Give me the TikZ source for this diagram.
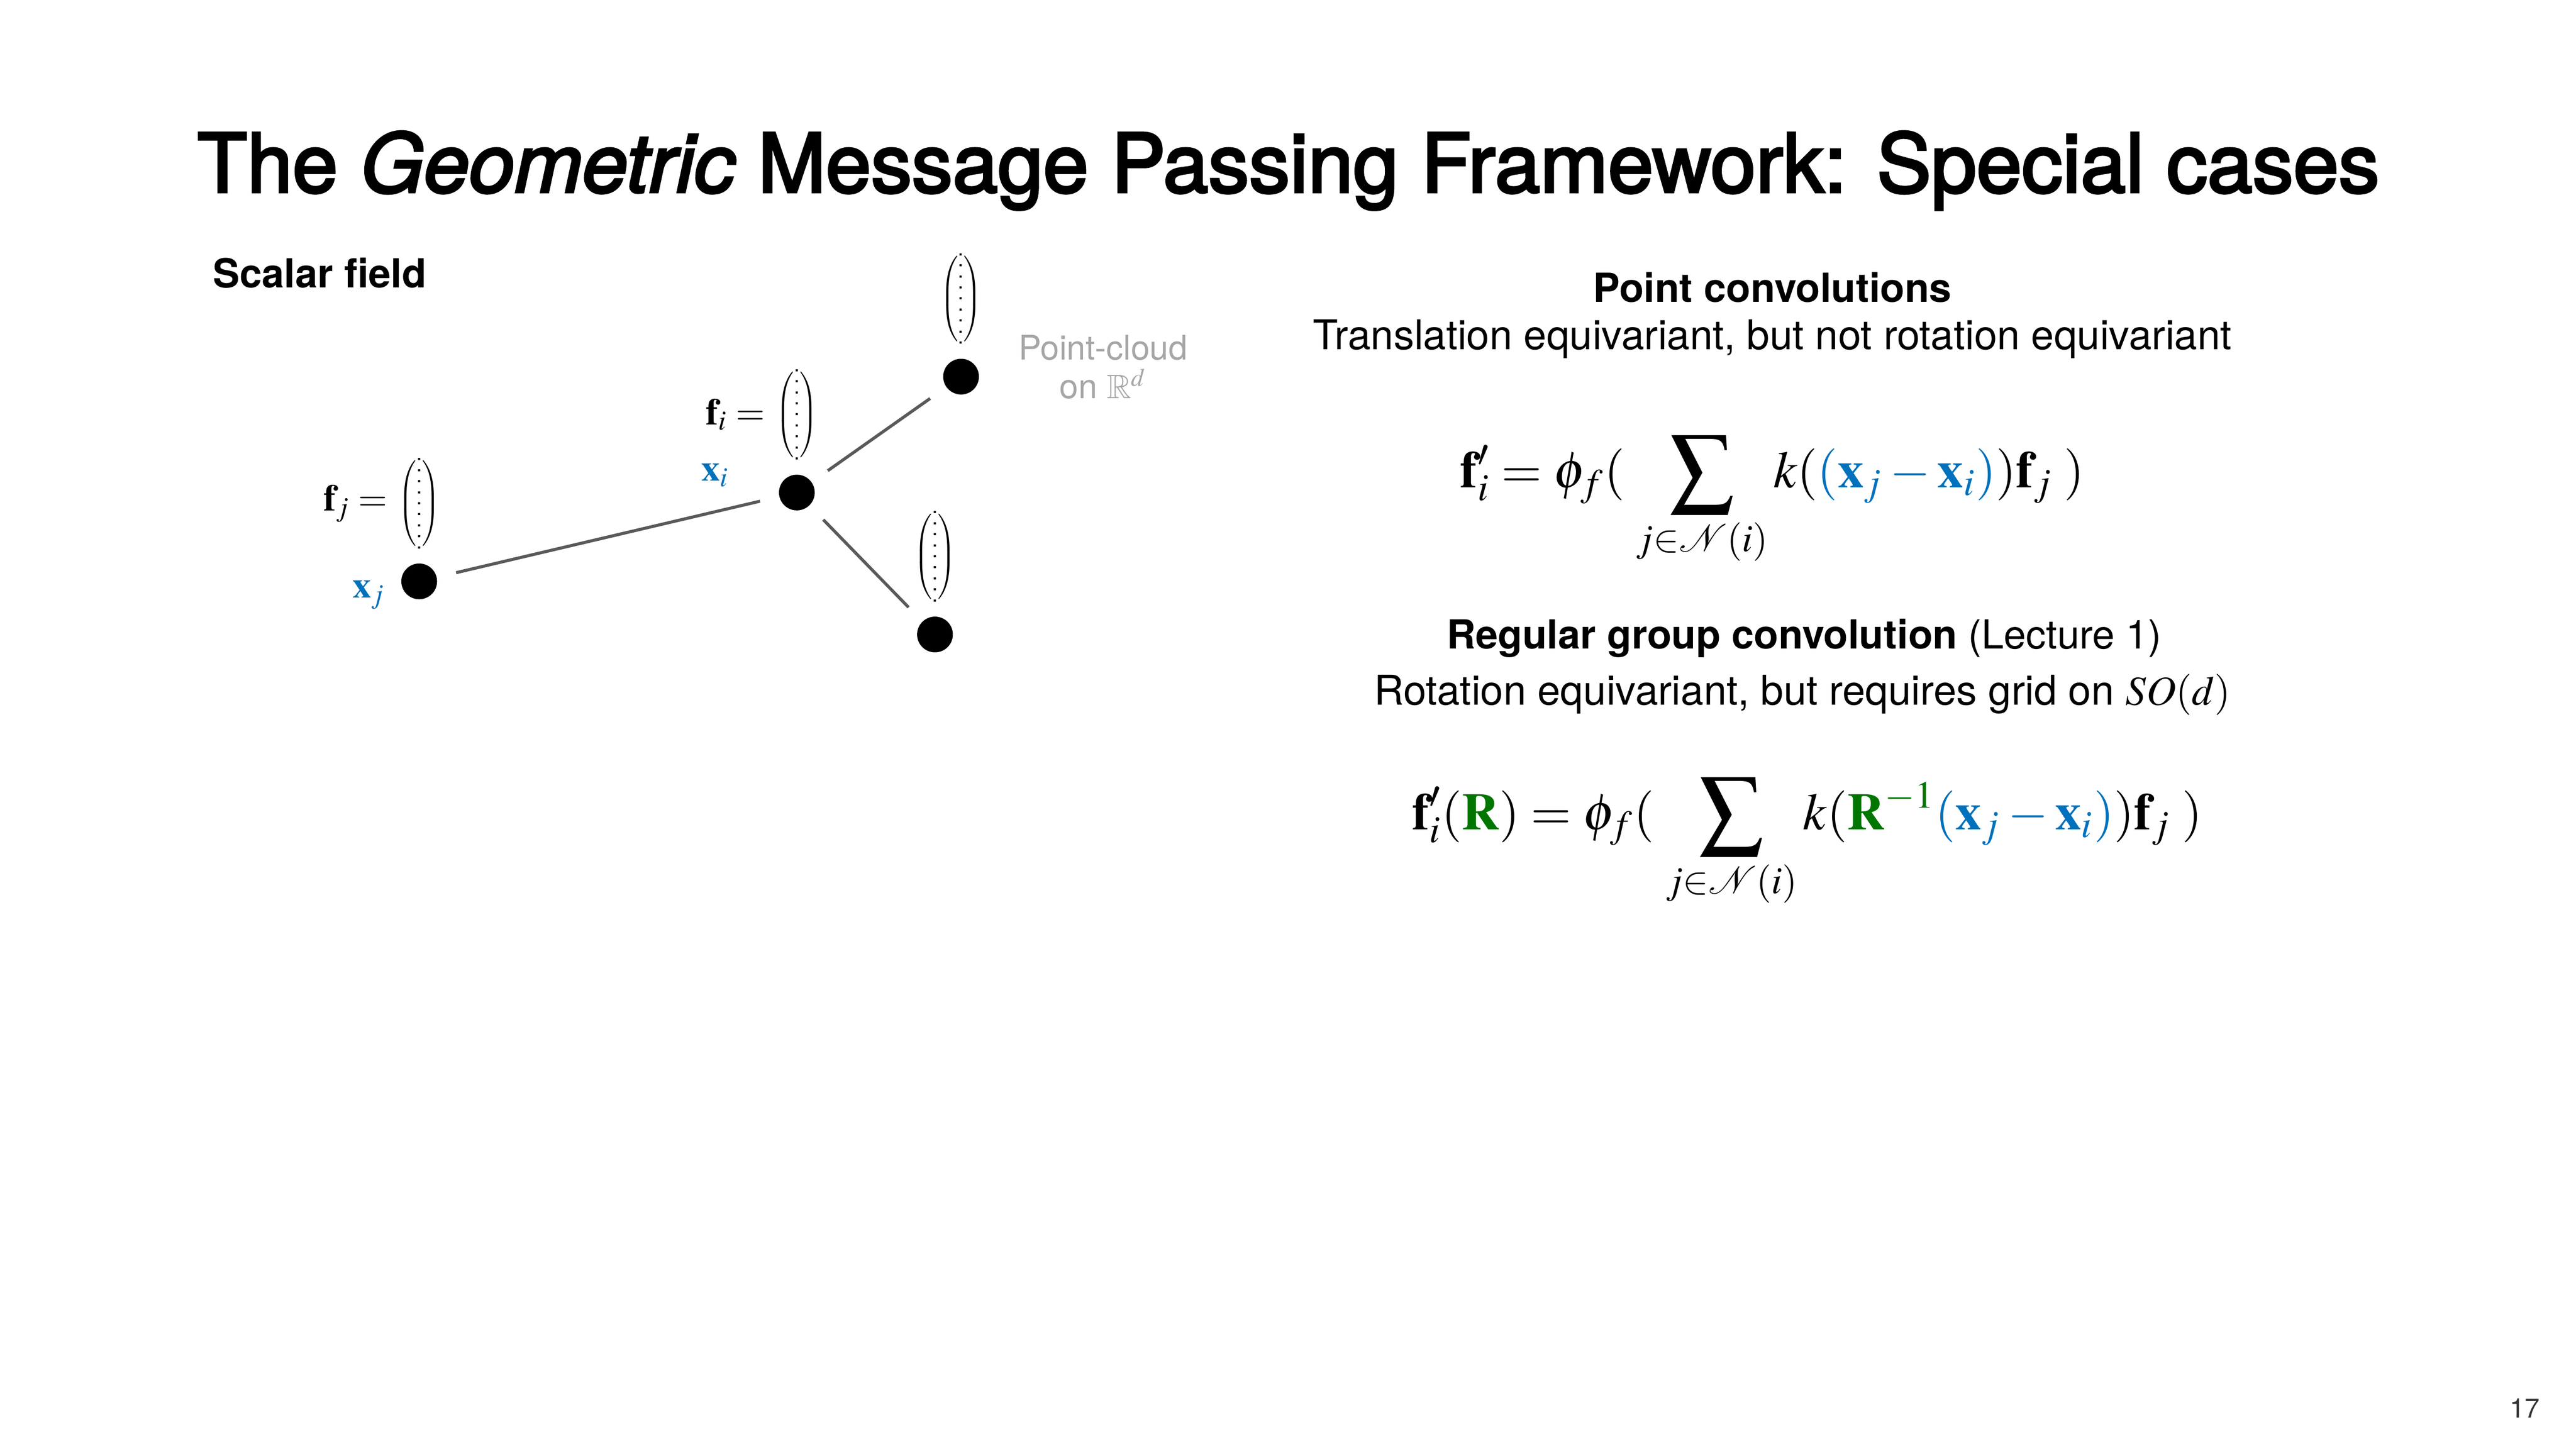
\documentclass[tikz,border=0pt]{standalone}
\usepackage{amsmath,amssymb}
\usepackage{mathptmx}
\usepackage[no-math]{fontspec}
\setmainfont{TeX Gyre Heros}
\newfontfamily\titlefont{TeX Gyre Heros}[FakeBold=3]
\usetikzlibrary{positioning}
\definecolor{posblue}{RGB}{0,113,188}
\definecolor{rotgreen}{RGB}{0,118,0}
\newcommand{\dotcol}{\vbox{\baselineskip=3.25pt\lineskiplimit=-5pt\hbox{.}\hbox{.}\hbox{.}\hbox{.}\hbox{.}\hbox{.}\hbox{.}\hbox{.}\hbox{.}}}
\newcommand{\colvec}{$\left(\vcenter{\dotcol}\right)$}
\newcommand{\bigsum}{\mathop{\vcenter{\hbox{\scalebox{1.22}{$\displaystyle\sum$}}}}\limits}

\begin{document}
\begin{tikzpicture}[
dot/.style={circle, fill=black, minimum size=3.7mm, inner sep=0pt},
vecnode/.style={inner sep=0pt, font=\fontsize{6}{7}\selectfont},
edge/.style={draw=black!65, line width=0.9pt, shorten >=2mm, shorten <=2mm},
heading/.style={font=\fontsize{11.8}{14}\selectfont\bfseries, anchor=base},
body/.style={font=\fontsize{12.1}{14}\selectfont, anchor=base},
eqn/.style={font=\fontsize{15.3}{18}\selectfont, anchor=base, inner sep=0pt},
lbl/.style={font=\fontsize{11}{13}\selectfont, inner sep=0pt},
]
\useasboundingbox (0,0) rectangle (26.67,-15);
\node[font=\fontsize{24}{28}\selectfont\titlefont, anchor=base] (title) at (13.34,-1.99) {The \textit{Geometric} Message Passing Framework: Special cases};
\node[heading, anchor=base west] (sf) at (2.08,-2.98) {Scalar field};
%%% 
%% Point cloud
\node[dot] (xj) at (4.34,-6.02) {};
\node[dot] (xi) at (8.25,-5.10) {};
\node[dot] (xt) at (9.95,-3.90) {};
\node[dot] (xb) at (9.68,-6.57) {};
\node[vecnode] (vj) [above=1.4mm of xj] {\colvec};
\node[vecnode] (vi) [above=1.4mm of xi] {\colvec};
\node[vecnode] (vt) [above=1.4mm of xt] {\colvec};
\node[vecnode] (vb) [above=1.4mm of xb] {\colvec};
\node[lbl] (fj) [left=1mm of vj] {$\mathbf{f}_j =$};
\node[lbl] (fi) [left=1mm of vi] {$\mathbf{f}_i =$};
\node[lbl, text=posblue] (lj) [left=1.5mm of xj, yshift=-1.4mm] {$\mathbf{x}_j$};
\node[lbl, text=posblue] (li) [left=5mm of xi, yshift=1.8mm] {$\mathbf{x}_i$};
\node[font=\fontsize{10}{11.5}\selectfont, text=black!35, align=center] (cloud) [right=2.8mm of xt, yshift=1mm] {Point-cloud\\on $\mathbb{R}^d$};
%% Lines
\draw[edge] (xj) -- (xi);
\draw[edge] (xi) -- (xt);
\draw[edge] (xi) -- (xb);
%%%
%% Special cases
\node[heading] (pc) at (18.35,-3.13) {Point convolutions};
\node[body] (pcd) at (18.35,-3.62) {Translation equivariant, but not rotation equivariant};
\node[eqn] (eq1) at (18.35,-5.05) {$\displaystyle \mathbf{f}'_i = \phi_f(\;\bigsum_{j\in\mathcal{N}(i)} k(\textcolor{posblue}{(\mathbf{x}_j - \mathbf{x}_i)})\mathbf{f}_j\;)$};
\node[heading] (gc) at (18.68,-6.72) {Regular group convolution \mdseries(Lecture 1)};
\node[body] (gcd) at (18.66,-7.30) {Rotation equivariant, but requires grid on $SO(d)$};
\node[eqn] (eq2) at (18.71,-8.59) {$\displaystyle \mathbf{f}'_i(\textcolor{rotgreen}{\mathbf{R}}) = \phi_f(\;\bigsum_{j\in\mathcal{N}(i)} k(\textcolor{rotgreen}{\mathbf{R}^{-1}}\textcolor{posblue}{(\mathbf{x}_j - \mathbf{x}_i)})\mathbf{f}_j\;)$};
\node[font=\fontsize{8}{9}\selectfont, text=black!80] (page) at (26.14,-14.58) {17};
\end{tikzpicture}
\end{document}
